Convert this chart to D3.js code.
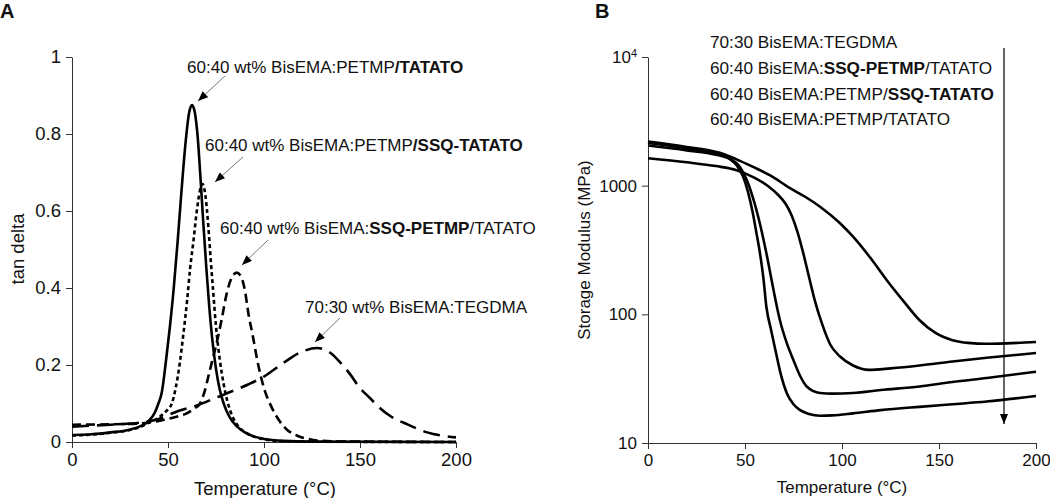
<!DOCTYPE html>
<html><head><meta charset="utf-8">
<script src="https://cdn.jsdelivr.net/npm/d3@7"></script>
<style>
html,body{margin:0;padding:0;background:#fff;}
svg{display:block;font-family:"Liberation Sans",Arial,sans-serif;}
</style></head>
<body>
<svg id="chart" width="1050" height="498"></svg>
<script>
// ---------- Panel A: tan delta vs temperature ----------
const tanPetmpTatato = [[0,0.018],[10,0.02],[20,0.025],[30,0.032],[36,0.042],[40,0.055],[43,0.075],[45,0.1],[46.7,0.127],[49,0.213],[51,0.3],[53,0.4],[55,0.52],[57,0.65],[59,0.77],[61,0.855],[62.5,0.875],[64,0.855],[65.5,0.79],[67,0.68],[68.5,0.56],[70,0.45],[71.5,0.35],[73,0.27],[75,0.19],[77,0.135],[79,0.1],[82,0.065],[86,0.04],[90,0.025],[95,0.014],[100,0.008],[110,0.003],[125,0.001],[200,0]];
const tanPetmpSsqTatato = [[0,0.017],[10,0.019],[20,0.024],[30,0.031],[36,0.04],[40,0.05],[45,0.063],[48,0.075],[50,0.085],[52,0.1],[54,0.14],[56,0.2],[58,0.28],[60,0.37],[61.5,0.45],[63.2,0.52],[65,0.6],[66.5,0.65],[68,0.67],[69.5,0.64],[71,0.56],[72.3,0.47],[73.6,0.387],[75,0.3],[77,0.213],[79,0.15],[82.3,0.083],[86,0.045],[91,0.023],[96,0.012],[100,0.007],[110,0.002],[125,0.001],[200,0]];
const tanSsqPetmpTatato = [[0,0.045],[20,0.046],[35,0.048],[42,0.052],[48,0.058],[54,0.065],[60,0.075],[64,0.088],[66.7,0.1],[69,0.13],[71,0.17],[73,0.21],[75.3,0.256],[78,0.32],[80.6,0.386],[83,0.425],[85.8,0.44],[88,0.43],[90,0.395],[92,0.33],[94,0.28],[97,0.2],[100,0.14],[104,0.09],[108,0.055],[112,0.032],[118,0.015],[125,0.006],[135,0.002],[150,0.001],[200,0]];
const tanTegdma = [[0,0.04],[20,0.045],[35,0.05],[45,0.06],[55,0.08],[65,0.095],[75,0.115],[85,0.135],[92,0.15],[100,0.17],[110,0.205],[120,0.235],[127.5,0.244],[135,0.23],[140,0.205],[145,0.175],[150,0.14],[155,0.115],[160,0.09],[165,0.07],[175,0.045],[185,0.025],[200,0.012]];
const tanTicks = [0,0.2,0.4,0.6,0.8,1];
const tanTickLabels = ["0","0.2","0.4","0.6","0.8","1"];
const tempTicks = [0,50,100,150,200];

// ---------- Panel B: storage modulus vs temperature ----------
const modTegdma = [[0,2200],[20,2000],[37,1800],[47.4,1560],[55,1380],[63,1200],[73,960],[81,820],[88.7,686],[99,510],[105.7,401],[115,270],[123,185],[132,125],[140,90],[148,72],[157,63],[165,60],[174.6,59],[185,59.5],[200,61]];
const modSsqPetmpTatato = [[0,1634],[20,1520],[35,1420],[45.7,1320],[55,1150],[62,990],[67,850],[71,720],[74,590],[77,440],[80,300],[83,195],[86,128],[90,82],[94,58],[99,47],[105.7,40],[114,37],[125,38],[140,40],[157,43],[174.6,46],[200,50]];
const modPetmpSsqTatato = [[0,2050],[20,1880],[35,1740],[42,1620],[47.4,1400],[51,1100],[54,815],[57.5,520],[61,300],[64.5,160],[68,90],[71.5,60],[75,44],[78.5,33],[81.8,27.5],[88.7,24.5],[95,24.2],[105.7,24.5],[120,25.8],[140,27.5],[157,29.8],[174.6,32],[200,35.8]];
const modPetmpTatato = [[0,2150],[20,1950],[35,1780],[42,1620],[46,1420],[49,1180],[51.5,900],[54,615],[56,420],[57.7,300],[59.5,190],[61,115],[63.5,75],[66,50],[68.5,34],[71.5,24.5],[75,20],[78.4,18],[83,16.8],[88.7,16.3],[95,16.4],[105.7,17],[120,18],[140,19.1],[157,20],[174.6,21],[200,23.2]];
const modTicks = [10,100,1000,10000];
const modTickLabels = ["10","100","1000","10^4"];
const arrowTemp = 183.5;

const legendItems = [
  [["70:30 BisEMA:TEGDMA",false]],
  [["60:40 BisEMA:",false],["SSQ-PETMP",true],["/TATATO",false]],
  [["60:40 BisEMA:PETMP/",false],["SSQ-TATATO",true]],
  [["60:40 BisEMA:PETMP/TATATO",false]]
];
const annotItems = [
  [["60:40 wt% BisEMA:PETMP",false],["/TATATO",true]],
  [["60:40 wt% BisEMA:PETMP",false],["/SSQ-TATATO",true]],
  [["60:40 wt% BisEMA:",false],["SSQ-PETMP",true],["/TATATO",false]],
  [["70:30 wt% BisEMA:TEGDMA",false]]
];

// ---------- drawing ----------
const svg = d3.select("#chart");
const FONT = '"Liberation Sans",Arial,sans-serif';
const axisColor = "#333";

const defs = svg.append("defs");
defs.append("marker").attr("id","head").attr("viewBox","0 0 10 8")
  .attr("refX",10).attr("refY",4).attr("markerWidth",11).attr("markerHeight",8)
  .attr("markerUnits","userSpaceOnUse").attr("orient","auto")
  .append("path").attr("d","M0,0 L10,4 L0,8 z").attr("fill","#000");

function styleAxis(g, fs){
  g.select(".domain").attr("stroke",axisColor).attr("stroke-width",1);
  g.selectAll(".tick line").attr("stroke",axisColor).attr("stroke-width",1);
  g.selectAll(".tick text").attr("fill","#111").style("font-size",fs+"px").style("font-family",FONT);
}

// Panel A
const xL = d3.scaleLinear().domain([0,200]).range([72,456]);
const yL = d3.scaleLinear().domain([0,1]).range([442,57]);
const gA = svg.append("g");
const axLx = gA.append("g").attr("transform","translate(0,442)")
  .call(d3.axisBottom(xL).tickValues(tempTicks).tickSize(6).tickSizeOuter(0).tickPadding(5));
styleAxis(axLx,18.5);
const axLy = gA.append("g").attr("transform","translate(72,0)")
  .call(d3.axisLeft(yL).tickValues(tanTicks).tickSize(6).tickSizeOuter(0).tickPadding(5)
    .tickFormat((d,i)=>tanTickLabels[i]));
styleAxis(axLy,18.5);

const lineL = d3.line().x(d=>xL(d[0])).y(d=>yL(d[1])).curve(d3.curveMonotoneX);
const seriesA = [
  {data:tanPetmpTatato, dash:null},
  {data:tanPetmpSsqTatato, dash:"4,3"},
  {data:tanSsqPetmpTatato, dash:"9,5"},
  {data:tanTegdma, dash:"17,8"}
];
seriesA.forEach(s=>{
  gA.append("path").attr("d",lineL(s.data)).attr("fill","none")
    .attr("stroke","#000").attr("stroke-width",2.6)
    .attr("stroke-dasharray",s.dash);
});

function richText(g, x, y, parts, fs){
  const t = g.append("text").attr("x",x).attr("y",y).attr("dominant-baseline","central")
    .style("font-size",fs+"px").style("font-family",FONT).attr("fill","#111");
  parts.forEach(p=>{
    t.append("tspan").text(p[0]).attr("font-weight",p[1]?"bold":"normal");
  });
  return t;
}

// annotations (label position, arrow start, arrow tip in px)
const annotLayout = [
  {tx:187, ty:67,  x1:225, y1:76,  x2:198, y2:101},
  {tx:205, ty:145, x1:243, y1:157, x2:215, y2:182},
  {tx:220, ty:228, x1:268, y1:240, x2:242, y2:265},
  {tx:305, ty:307, x1:340, y1:318, x2:315, y2:342}
];
annotItems.forEach((parts,i)=>{
  const L = annotLayout[i];
  richText(gA, L.tx, L.ty, parts, 17);
  gA.append("line").attr("x1",L.x1).attr("y1",L.y1).attr("x2",L.x2).attr("y2",L.y2)
    .attr("stroke","#777").attr("stroke-width",1).attr("marker-end","url(#head)");
});

gA.append("text").attr("x",265).attr("y",488).attr("text-anchor","middle")
  .attr("dominant-baseline","central").style("font-size","18.5px").attr("fill","#111")
  .text("Temperature (°C)");
gA.append("text").attr("transform","translate(17,249) rotate(-90)").attr("text-anchor","middle")
  .attr("dominant-baseline","central").style("font-size","18.5px").attr("fill","#111")
  .text("tan delta");
svg.append("text").attr("x",0).attr("y",18).style("font-size","20px").attr("font-weight","bold")
  .attr("fill","#111").text("A");

// Panel B
const xR = d3.scaleLinear().domain([0,200]).range([648,1036]);
const yR = d3.scaleLog().domain([10,10000]).range([443,57]);
const gB = svg.append("g");
const axRx = gB.append("g").attr("transform","translate(0,443)")
  .call(d3.axisBottom(xR).tickValues(tempTicks).tickSize(6).tickSizeOuter(0).tickPadding(5));
styleAxis(axRx,17);
const axRy = gB.append("g").attr("transform","translate(648,0)")
  .call(d3.axisLeft(yR).tickValues(modTicks).tickSize(6).tickSizeOuter(0).tickPadding(5)
    .tickFormat(()=>""));
styleAxis(axRy,17);
axRy.selectAll(".tick text").each(function(d,i){
  const t = d3.select(this);
  const lab = modTickLabels[i];
  if(lab.includes("^")){
    const [b,e] = lab.split("^");
    t.append("tspan").text(b);
    t.append("tspan").text(e).attr("dy","-0.55em").style("font-size","11px");
  } else {
    t.text(lab);
  }
});

const lineR = d3.line().x(d=>xR(d[0])).y(d=>yR(d[1])).curve(d3.curveMonotoneX);
[modTegdma, modSsqPetmpTatato, modPetmpSsqTatato, modPetmpTatato].forEach(s=>{
  gB.append("path").attr("d",lineR(s)).attr("fill","none")
    .attr("stroke","#000").attr("stroke-width",2.6);
});

// arrow showing legend order
gB.append("line").attr("x1",xR(arrowTemp)).attr("x2",xR(arrowTemp))
  .attr("y1",48).attr("y2",424).attr("stroke","#000").attr("stroke-width",1.2)
  .attr("marker-end","url(#head)");

const legendY = [42,68,94,119];
legendItems.forEach((parts,i)=>{
  richText(gB, 710, legendY[i], parts, 17.2);
});

gB.append("text").attr("x",842).attr("y",487).attr("text-anchor","middle")
  .attr("dominant-baseline","central").style("font-size","17px").attr("fill","#111")
  .text("Temperature (°C)");
gB.append("text").attr("transform","translate(584,250) rotate(-90)").attr("text-anchor","middle")
  .attr("dominant-baseline","central").style("font-size","17px").attr("fill","#111")
  .text("Storage Modulus (MPa)");
svg.append("text").attr("x",595).attr("y",18).style("font-size","20px").attr("font-weight","bold")
  .attr("fill","#111").text("B");
</script>
</body></html>
